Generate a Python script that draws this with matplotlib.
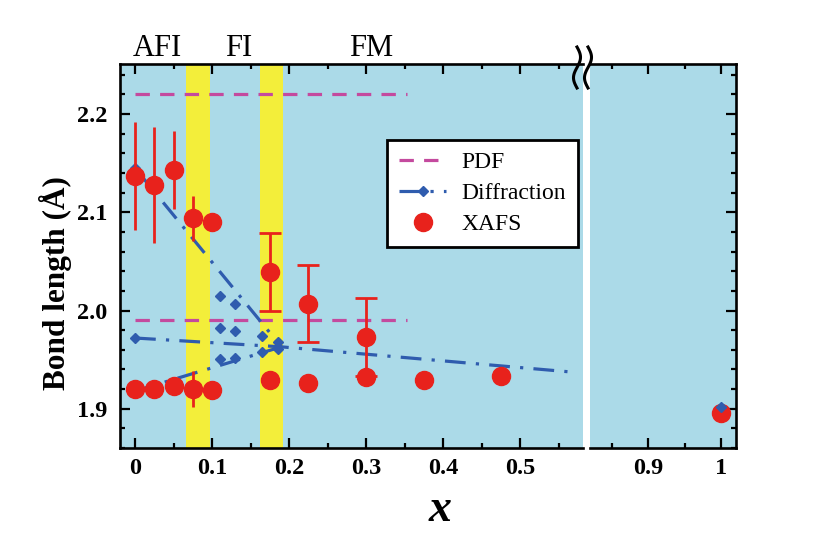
import numpy as np
import matplotlib
matplotlib.use("Agg")
import matplotlib.pyplot as plt
from matplotlib.lines import Line2D
from matplotlib.transforms import offset_copy

# ---------------- data ----------------
pdf_x = [0.0, 0.353]
pdf_hi_y = [2.22, 2.22]
pdf_lo_y = [1.99, 1.99]

diff_up_x = [0.0, 0.19]
diff_up_y = [2.145, 1.963]
diff_mid_x = [0.0, 0.19, 0.572]
diff_mid_y = [1.972, 1.963, 1.937]
diff_low_x = [0.0, 0.19]
diff_low_y = [1.918, 1.963]
diff_pts_x = [0.0, 0.0, 0.0, 0.11, 0.11, 0.11, 0.13, 0.13, 0.13, 0.165, 0.165, 0.185, 0.185]
diff_pts_y = [2.145, 1.972, 1.918, 2.015, 1.982, 1.951, 2.007, 1.979, 1.952, 1.974, 1.958, 1.968, 1.961]
diff_end_x = [1.0]
diff_end_y = [1.902]

# XAFS, long bonds without caps
xafs_a_x = [0.0, 0.025, 0.05, 0.075]
xafs_a_y = [2.137, 2.128, 2.143, 2.094]
xafs_a_err = [0.055, 0.059, 0.040, 0.023]
# XAFS, long bonds with caps
xafs_b_x = [0.175, 0.225, 0.30]
xafs_b_y = [2.039, 2.007, 1.973]
xafs_b_err = [0.040, 0.039, 0.040]
# XAFS, points without error bars
xafs_c_x = [0.1, 0.0, 0.025, 0.05, 0.1, 0.175, 0.225, 0.30, 0.375, 0.475]
xafs_c_y = [2.090, 1.920, 1.920, 1.923, 1.919, 1.929, 1.926, 1.932, 1.929, 1.933]
# XAFS, short bond with small error bar
xafs_d_x = [0.075]
xafs_d_y = [1.920]
xafs_d_err = [0.018]
# XAFS end member
xafs_end_x = [1.0]
xafs_end_y = [1.896]

# phase regions
band_ranges = [(0.066, 0.097), (0.162, 0.192)]
phase_labels = ["AFI", "FI", "FM"]
phase_label_x = [0.029, 0.134, 0.306]

left_ticks = [0, 0.1, 0.2, 0.3, 0.4, 0.5]
left_ticklabels = ["0", "0.1", "0.2", "0.3", "0.4", "0.5"]
right_ticks = [0.9, 1.0]
right_ticklabels = ["0.9", "1"]
y_ticks = [1.9, 2.0, 2.1, 2.2]
y_ticklabels = ["1.9", "2.0", "2.1", "2.2"]

# ---------------- style ----------------
plt.rcParams['font.family'] = ['Liberation Serif', 'DejaVu Serif']
BG = '#abdae8'
YEL = '#f3ee3a'
RED = '#e8221c'
MAG = '#c44a9e'
BLUE = '#2f5cae'

fig = plt.figure(figsize=(8.14, 5.38), dpi=100)
W, H = 814, 538
ax1 = fig.add_axes([120 / W, (H - 448) / H, (583 - 120) / W, (448 - 64) / H])
ax2 = fig.add_axes([590 / W, (H - 448) / H, (736 - 590) / W, (448 - 64) / H])

ylim = (1.860, 2.251)
for ax in (ax1, ax2):
    ax.set_facecolor(BG)
    ax.set_ylim(*ylim)
    for s in ax.spines.values():
        s.set_linewidth(1.9)
    ax.tick_params(which='both', direction='in', top=True, width=1.6,
                   labelsize=17.5)
    ax.tick_params(which='major', length=7.5)
    ax.tick_params(which='minor', length=3.8)
    ax.set_yticks(y_ticks)
    ax.set_yticks(np.arange(1.86, 2.2501, 0.02), minor=True)

ax1.spines['right'].set_visible(False)
ax2.spines['left'].set_visible(False)
ax1.tick_params(which='both', left=True, right=False)
ax2.tick_params(which='both', left=False, right=True, labelleft=False)
ax1.set_yticklabels(y_ticklabels, fontweight='bold')
ax1.tick_params(axis='y', pad=9)
ax1.tick_params(axis='x', pad=7)
ax2.tick_params(axis='x', pad=7)

ax1.set_xlim(-0.0195, 0.5815)
ax2.set_xlim(0.8205, 1.0205)
ax1.set_xticks(left_ticks)
ax1.set_xticklabels(left_ticklabels, fontweight='bold')
ax1.set_xticks(np.arange(0.05, 0.58, 0.1), minor=True)
ax2.set_xticks(right_ticks)
ax2.set_xticklabels(right_ticklabels, fontweight='bold')
ax2.set_xticks([0.85, 0.95], minor=True)

# yellow bands
for a, b in band_ranges:
    ax1.axvspan(a, b, color=YEL, lw=0, zorder=0.5)

dash_pdf = (0, (4.5, 3.2))
dashdot = (0, (6.5, 3.2, 1.0, 3.2))

# PDF
ax1.plot(pdf_x, pdf_hi_y, color=MAG, lw=2.3, ls=dash_pdf, zorder=2)
ax1.plot(pdf_x, pdf_lo_y, color=MAG, lw=2.3, ls=dash_pdf, zorder=2)

# Diffraction
for xs, ys in ((diff_up_x, diff_up_y), (diff_mid_x, diff_mid_y), (diff_low_x, diff_low_y)):
    ax1.plot(xs, ys, color=BLUE, lw=2.3, ls=dashdot, zorder=2)
ax1.plot(diff_pts_x, diff_pts_y, ls='none', marker='D', ms=5.5, color=BLUE, zorder=3)

# XAFS
ekw = dict(fmt='o', color=RED, ms=13, elinewidth=2.0, ecolor=RED, zorder=4)
ax1.errorbar(xafs_a_x, xafs_a_y, yerr=xafs_a_err, capsize=0, **ekw)
ax1.errorbar(xafs_b_x, xafs_b_y, yerr=xafs_b_err, capsize=8, capthick=2.0, **ekw)
ax1.errorbar(xafs_d_x, xafs_d_y, yerr=xafs_d_err, capsize=0, **ekw)
ax1.plot(xafs_c_x, xafs_c_y, 'o', color=RED, ms=13, zorder=4)

ax2.plot(xafs_end_x, xafs_end_y, 'o', color=RED, ms=13, zorder=4)
ax2.plot(diff_end_x, diff_end_y, ls='none', marker='D', ms=5.5, color=BLUE, zorder=5)

# phase labels
lab_tr = offset_copy(ax1.get_xaxis_transform(), fig=fig, y=6, units='points')
for lab, xx in zip(phase_labels, phase_label_x):
    ax1.text(xx, 1.0, lab, transform=lab_tr, ha='center',
             va='baseline', fontsize=22)

# axis labels
fig.text(55 / W, (H - 283) / H, 'Bond length (Å)', fontsize=22.5,
         fontweight='bold', rotation=90, ha='center', va='center')
fig.text(440 / W, (H - 510) / H, 'x', fontsize=33, fontweight='bold',
         style='italic', ha='center', va='center')

# legend
handles = [
    Line2D([], [], color=MAG, lw=2.3, ls=dash_pdf),
    Line2D([], [], color=BLUE, lw=2.3, ls=dashdot, marker='D', ms=5.5,
           markevery=[1]),
    Line2D([], [], color=RED, ls='none', marker='o', ms=13),
]
leg = ax1.legend(handles, ['PDF', 'Diffraction', 'XAFS'], loc='upper right',
                 bbox_to_anchor=(0.989, 0.802), borderaxespad=0, fontsize=17,
                 fancybox=False, edgecolor='black', framealpha=1,
                 handlelength=2.0, handletextpad=0.65, labelspacing=0.4,
                 borderpad=0.5)
leg.get_frame().set_linewidth(2.0)

# axis break symbol
t = np.linspace(0, 1, 60)
for x0 in (577, 588):
    xs = (x0 + 3.5 * np.sin(2 * np.pi * t)) / W
    ys = (H - (47 + 41 * t)) / H
    fig.add_artist(Line2D(xs, ys, color='black', lw=2.2, transform=fig.transFigure))

fig.savefig('out.png', dpi=100)
